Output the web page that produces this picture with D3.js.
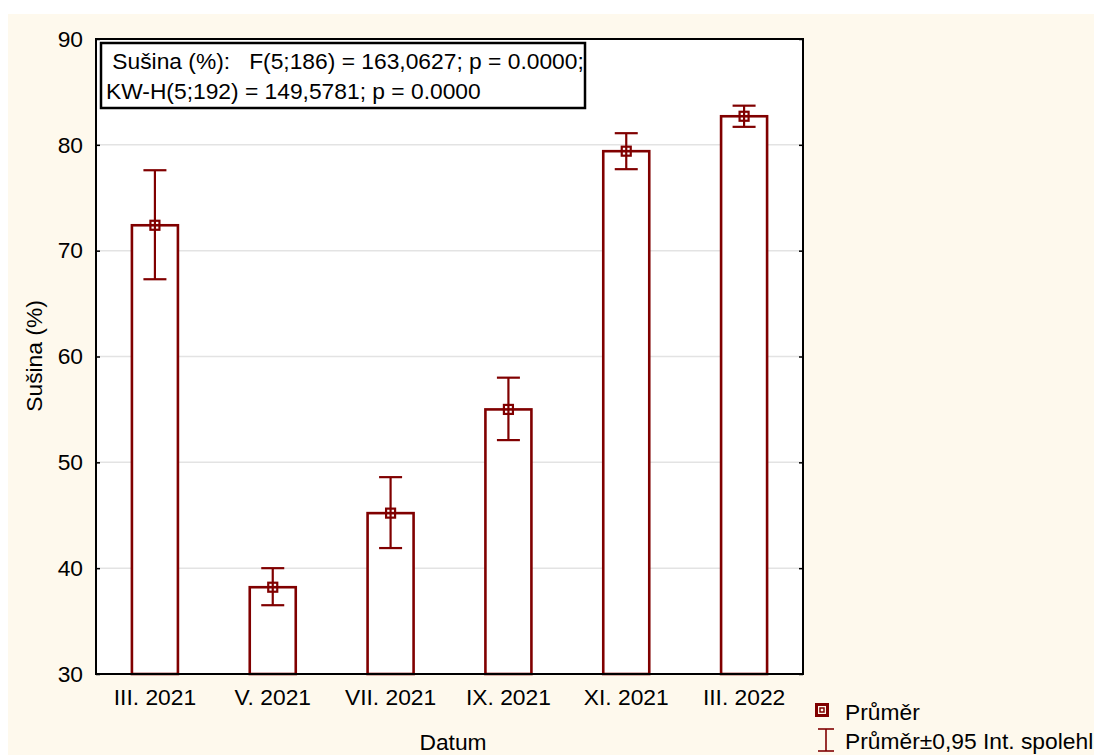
<!DOCTYPE html>
<html>
<head>
<meta charset="utf-8">
<script src="https://cdn.jsdelivr.net/npm/d3@7"></script>
<style>
  html, body { margin: 0; padding: 0; background: #ffffff; }
  svg { display: block; }
  text { font-family: "Liberation Sans", Arial, sans-serif; fill: #000; }
</style>
</head>
<body>
<svg id="chart" width="1094" height="755"></svg>
<script>
// Dry matter by sampling date: mean and 0.95 confidence interval
const categories = ["III. 2021", "V. 2021", "VII. 2021", "IX. 2021", "XI. 2021", "III. 2022"];
const means      = [72.4, 38.2, 45.2, 55.0, 79.4, 82.7];
const ciLow      = [67.3, 36.5, 41.9, 52.1, 77.7, 81.7];
const ciHigh     = [77.6, 40.0, 48.6, 58.0, 81.1, 83.7];
const yTicks     = [30, 40, 50, 60, 70, 80, 90];
const statLines  = [" Sušina (%):   F(5;186) = 163,0627; p = 0.0000;", "KW-H(5;192) = 149,5781; p = 0.0000"];
const legendLabels = ["Průměr", "Průměr±0,95 Int. spolehl"];

const W = 1094, H = 755;
const FS = 22.8;
const plot = { left: 96, top: 39, right: 803, bottom: 674 };
const dark = "#800000";
const cream = "#fef9ed";

const svg = d3.select("#chart");

// outer panel
svg.append("rect").attr("x", 8).attr("y", 14).attr("width", W - 8).attr("height", H - 14).attr("fill", cream);
svg.append("rect").attr("x", plot.left).attr("y", plot.top)
  .attr("width", plot.right - plot.left).attr("height", plot.bottom - plot.top).attr("fill", "#fff");

const x = d3.scaleBand().domain(categories).range([plot.left, plot.right]).paddingInner(0).paddingOuter(0);
const y = d3.scaleLinear().domain([30, 90]).range([plot.bottom, plot.top]);

// horizontal grid
svg.append("g").selectAll("line").data(yTicks.filter(t => t > 30 && t < 90)).join("line")
  .attr("x1", plot.left).attr("x2", plot.right)
  .attr("y1", d => y(d)).attr("y2", d => y(d))
  .attr("stroke", "#e3e3e3").attr("stroke-width", 1.5);

// left axis (labels) with inward ticks
const yAxis = d3.axisLeft(y).tickValues(yTicks).tickSize(-4).tickPadding(13).tickFormat(d3.format("d"));
const gy = svg.append("g").attr("transform", `translate(${plot.left},0)`).call(yAxis);
gy.select(".domain").remove();
gy.selectAll(".tick line").attr("stroke", "#000").attr("stroke-width", 1.5);
gy.selectAll(".tick text").attr("font-size", FS).attr("font-family", "Liberation Sans, Arial, sans-serif");

// right axis: ticks only
const gyr = svg.append("g").attr("transform", `translate(${plot.right},0)`)
  .call(d3.axisRight(y).tickValues(yTicks).tickSize(-4).tickFormat(""));
gyr.select(".domain").remove();
gyr.selectAll(".tick line").attr("stroke", "#000").attr("stroke-width", 1.5);

// bottom axis
const xAxis = d3.axisBottom(x).tickSize(-3).tickPadding(15);
const gx = svg.append("g").attr("transform", `translate(0,${plot.bottom})`).call(xAxis);
gx.select(".domain").remove();
gx.selectAll(".tick line").attr("stroke", "#000").attr("stroke-width", 1.5);
gx.selectAll(".tick text").attr("font-size", FS).attr("font-family", "Liberation Sans, Arial, sans-serif");

// bars
const barW = 46;
const cx = d => x(d) + x.bandwidth() / 2;
svg.append("g").selectAll("rect").data(categories).join("rect")
  .attr("x", d => cx(d) - barW / 2)
  .attr("y", (d, i) => y(means[i]))
  .attr("width", barW)
  .attr("height", (d, i) => y(30) - y(means[i]))
  .attr("fill", "#fff").attr("stroke", dark).attr("stroke-width", 2.6);

// error bars
const capW = 23;
const eb = svg.append("g").selectAll("g").data(categories).join("g");
eb.append("line")
  .attr("x1", d => cx(d)).attr("x2", d => cx(d))
  .attr("y1", (d, i) => y(ciLow[i])).attr("y2", (d, i) => y(ciHigh[i]))
  .attr("stroke", dark).attr("stroke-width", 2.2);
eb.append("line")
  .attr("x1", d => cx(d) - capW / 2).attr("x2", d => cx(d) + capW / 2)
  .attr("y1", (d, i) => y(ciHigh[i])).attr("y2", (d, i) => y(ciHigh[i]))
  .attr("stroke", dark).attr("stroke-width", 2.2);
eb.append("line")
  .attr("x1", d => cx(d) - capW / 2).attr("x2", d => cx(d) + capW / 2)
  .attr("y1", (d, i) => y(ciLow[i])).attr("y2", (d, i) => y(ciLow[i]))
  .attr("stroke", dark).attr("stroke-width", 2.2);

// mean markers
svg.append("g").selectAll("rect").data(categories).join("rect")
  .attr("x", d => cx(d) - 4.5).attr("y", (d, i) => y(means[i]) - 4.5)
  .attr("width", 9).attr("height", 9)
  .attr("fill", "none").attr("stroke", dark).attr("stroke-width", 2.2);

// plot frame
svg.append("rect").attr("x", plot.left).attr("y", plot.top)
  .attr("width", plot.right - plot.left).attr("height", plot.bottom - plot.top)
  .attr("fill", "none").attr("stroke", "#000").attr("stroke-width", 2);

// statistics box
svg.append("rect").attr("x", 101).attr("y", 43).attr("width", 484).attr("height", 65)
  .attr("fill", "#fff").attr("stroke", "#000").attr("stroke-width", 2.5);
svg.append("g").selectAll("text").data(statLines).join("text")
  .attr("x", 106).attr("y", (d, i) => 69 + i * 30)
  .attr("font-size", FS)
  .style("white-space", "pre")
  .text(d => d);

// axis titles
svg.append("text").attr("x", 453).attr("y", 750)
  .attr("text-anchor", "middle").attr("font-size", FS).text("Datum");
svg.append("text").attr("transform", `translate(42,356) rotate(-90)`)
  .attr("text-anchor", "middle").attr("font-size", FS).text("Sušina (%)");

// legend
const lg = svg.append("g");
lg.append("rect").attr("x", 816.5).attr("y", 704.5).attr("width", 11).attr("height", 11)
  .attr("fill", "none").attr("stroke", dark).attr("stroke-width", 3);
lg.append("rect").attr("x", 820).attr("y", 708).attr("width", 4).attr("height", 4)
  .attr("fill", "none").attr("stroke", dark).attr("stroke-width", 1.5);
lg.append("line").attr("x1", 826).attr("x2", 826).attr("y1", 729).attr("y2", 751).attr("stroke", dark).attr("stroke-width", 1.6);
lg.append("line").attr("x1", 818).attr("x2", 834).attr("y1", 729).attr("y2", 729).attr("stroke", dark).attr("stroke-width", 1.6);
lg.append("line").attr("x1", 818).attr("x2", 834).attr("y1", 751).attr("y2", 751).attr("stroke", dark).attr("stroke-width", 1.6);
lg.selectAll("text").data(legendLabels).join("text")
  .attr("x", 845).attr("y", (d, i) => 720 + i * 29)
  .attr("font-size", FS).text(d => d);
</script>
</body>
</html>
